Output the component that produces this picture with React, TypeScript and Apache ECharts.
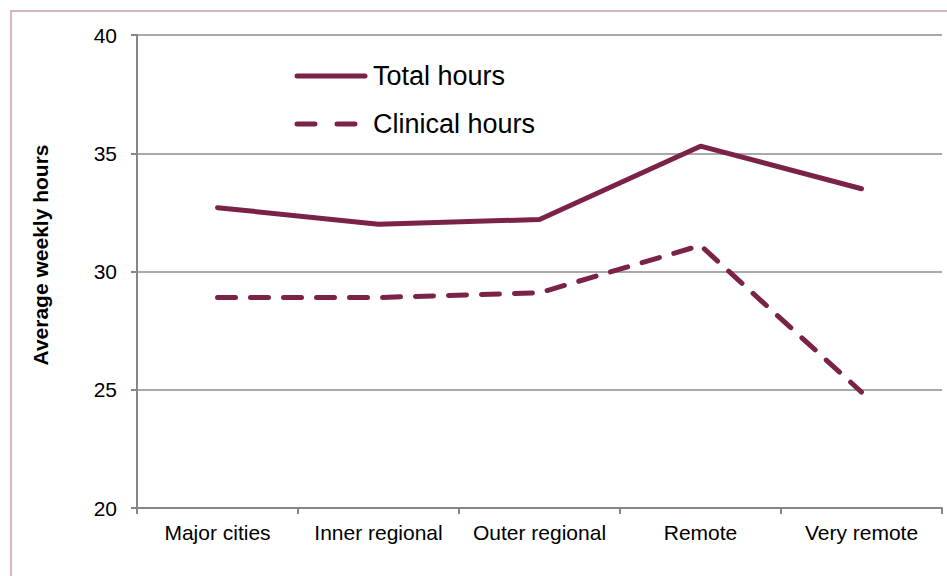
import React, { useEffect, useRef } from "react";
import * as echarts from "echarts";

const categories = ["Major cities", "Inner regional", "Outer regional", "Remote", "Very remote"];
const totalHours = [32.7, 32.0, 32.2, 35.3, 33.5];
const clinicalHours = [28.9, 28.9, 29.1, 31.1, 24.9];
const yTicks = { min: 20, max: 40, interval: 5 };
const seriesNames = ["Total hours", "Clinical hours"];
const yAxisTitle = "Average weekly hours";

const LINE_COLOR = "#7b2249";
const FONT = "'Liberation Sans', Arial, sans-serif";

export default function App() {
  const ref = useRef<HTMLDivElement>(null);
  useEffect(() => {
    document.body.style.margin = "0";
    const chart = echarts.init(ref.current!, null, { renderer: "svg" });
    chart.setOption({
      animation: false,
      backgroundColor: "#ffffff",
      textStyle: { fontFamily: FONT },
      graphic: [
        {
          type: "rect",
          shape: { x: 11, y: 11, width: 960, height: 600 },
          style: { fill: "none", stroke: "#c9a1b2", lineWidth: 1.5 },
          silent: true,
        },
        {
          type: "line",
          shape: { x1: 297, y1: 76, x2: 365, y2: 76 },
          style: { stroke: LINE_COLOR, lineWidth: 5, lineCap: "round" },
        },
        {
          type: "line",
          shape: { x1: 297, y1: 124, x2: 365, y2: 124 },
          style: { stroke: LINE_COLOR, lineWidth: 5, lineCap: "round", lineDash: [18, 22] },
        },
        {
          type: "text",
          x: 373,
          y: 76,
          style: { text: seriesNames[0], fontSize: 27, fontFamily: FONT, fill: "#000", textVerticalAlign: "middle", textAlign: "left" },
        },
        {
          type: "text",
          x: 373,
          y: 124,
          style: { text: seriesNames[1], fontSize: 27, fontFamily: FONT, fill: "#000", textVerticalAlign: "middle", textAlign: "left" },
        },
        {
          type: "text",
          x: 40,
          y: 255,
          rotation: Math.PI / 2,
          style: { text: yAxisTitle, fontSize: 21, fontWeight: "bold", fontFamily: FONT, fill: "#000", textVerticalAlign: "middle", textAlign: "center" },
        },
      ],
      grid: { left: 137, top: 35, width: 805, height: 473, containLabel: false },
      xAxis: {
        type: "category",
        data: categories,
        boundaryGap: true,
        axisLine: { lineStyle: { color: "#868686", width: 2 } },
        axisTick: { show: true, interval: 0, length: 6, lineStyle: { color: "#868686", width: 2 } },
        axisLabel: { color: "#000", fontSize: 21, margin: 14, interval: 0, hideOverlap: false, fontFamily: FONT },
        splitLine: { show: false },
      },
      yAxis: {
        type: "value",
        min: yTicks.min,
        max: yTicks.max,
        interval: yTicks.interval,
        axisLine: { show: true, lineStyle: { color: "#868686", width: 2 } },
        axisTick: { show: true, length: 6, lineStyle: { color: "#868686", width: 2 } },
        axisLabel: { color: "#000", fontSize: 21, margin: 20, fontFamily: FONT },
        splitLine: { show: true, lineStyle: { color: "#8c8c8c", width: 1.5 } },
      },
      series: [
        {
          name: seriesNames[0],
          type: "line",
          data: totalHours,
          symbol: "none",
          color: LINE_COLOR,
          lineStyle: { color: LINE_COLOR, width: 5, cap: "round", join: "round" },
        },
        {
          name: seriesNames[1],
          type: "line",
          data: clinicalHours,
          symbol: "none",
          color: LINE_COLOR,
          lineStyle: { color: LINE_COLOR, width: 5, type: [18, 15], cap: "round", join: "round" },
        },
      ],
    });
    return () => chart.dispose();
  }, []);
  return <div ref={ref} style={{ width: 947, height: 576 }} />;
}
